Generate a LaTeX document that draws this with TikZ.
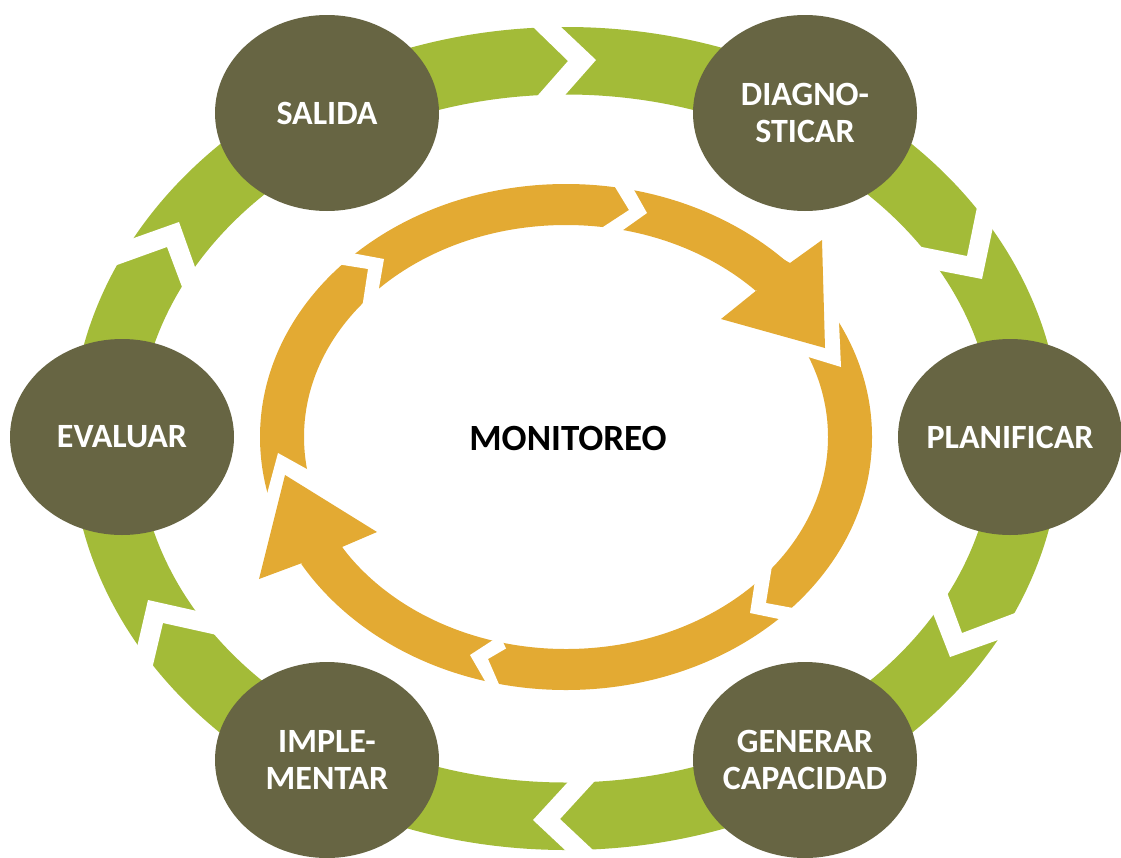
\documentclass[tikz,border=0pt]{standalone}
\usepackage{fontspec}
\setmainfont{Carlito}
\usetikzlibrary{calc,shapes.geometric}
\definecolor{ringgreen}{HTML}{A3BB38}
\definecolor{stageolive}{HTML}{676543}
\definecolor{ringorange}{HTML}{E3AA33}
\tikzset{
  stage/.style={ellipse, fill=stageolive, minimum width=224pt, minimum height=196pt,
    inner sep=-40pt, text=white, align=center, font=\bfseries\fontsize{34}{37}\selectfont},
  gapfill/.style={fill=white},
  headfill/.style={fill=ringorange},
}
% white chevron gap: head A-B-C, notch D-E-F
\newcommand{\chevgap}[6]{%
  \fill[gapfill] ($#2!1.5!#1$) -- #2 -- ($#2!1.5!#3$) -- ($#5!1.5!#6$) -- #5 -- ($#5!1.5!#4$) -- cycle;}
\begin{document}
\begin{tikzpicture}[x=1pt,y=-1pt]
\useasboundingbox (0,0) rectangle (1121,857);
% green ring
\fill[ringgreen, even odd rule] (566,438.5) ellipse [x radius=495pt, y radius=411.5pt]
  (566,438.5) ellipse [x radius=428pt, y radius=344pt];
\chevgap{(533,27)}{(568,61)}{(539,94)}{(560,26)}{(596,60)}{(566,94)}
\chevgap{(977,207)}{(967,256)}{(922,247)}{(993,227)}{(982,279)}{(941,271)}
\chevgap{(1015,613)}{(962,633)}{(948,595)}{(998,640)}{(950,657)}{(934,616)}
\chevgap{(593,783)}{(560,819)}{(593,850)}{(567,783)}{(533,820)}{(565,850)}
\chevgap{(153,665)}{(163,623)}{(217,635)}{(138,643)}{(148,600)}{(197,611)}
\chevgap{(117,265)}{(167,247)}{(182,287)}{(134,238)}{(179,222)}{(195,267)}
% orange ring
\fill[ringorange, even odd rule] (566,437) ellipse [x radius=306pt, y radius=253pt]
  (566,437) ellipse [x radius=262pt, y radius=212pt];
\chevgap{(615,187)}{(629,210)}{(603,227)}{(634,190)}{(647,213)}{(623,230)}
\chevgap{(343,265)}{(368,269)}{(363,302)}{(357,254)}{(384,259)}{(379,288)}
\chevgap{(793,608)}{(766,603)}{(771,572)}{(779,619)}{(750,613)}{(754,587)}
\chevgap{(498,682)}{(488,659)}{(500,652)}{(485,681)}{(470,655)}{(490,642)}
% upper right arrowhead
\fill[gapfill] (810,247) -- (737,306) -- (792,352) -- (841,367) -- (838,300) -- cycle;
\fill[headfill] (781,258) -- (790,263) -- (822,240) -- (825,348) -- (721,319) -- (757,290) -- (749,284) -- cycle;
% lower left arrowhead
\fill[gapfill] (283,571) -- (361,539) -- (323,478) -- (278,453) -- (260,520) -- cycle;
\fill[headfill] (310,569) -- (302,563) -- (259,579) -- (285,475) -- (377,532) -- (342,547) -- (352,561) -- cycle;
% stages
\node[stage] (salida) at (327,113) {SALIDA};
\node[stage] (diag) at (805,113) {DIAGNO-\\STICAR};
\node[stage] (plan) at (1010,437) {PLANIFICAR};
\node[stage] (gen) at (805,760) {GENERAR\\CAPACIDAD};
\node[stage] (impl) at (327,760) {IMPLE-\\MENTAR};
\node[stage] (eval) at (122,437) {EVALUAR};
\node[font=\bfseries\fontsize{37}{40}\selectfont] (mon) at (568,438) {MONITOREO};
\end{tikzpicture}
\end{document}
